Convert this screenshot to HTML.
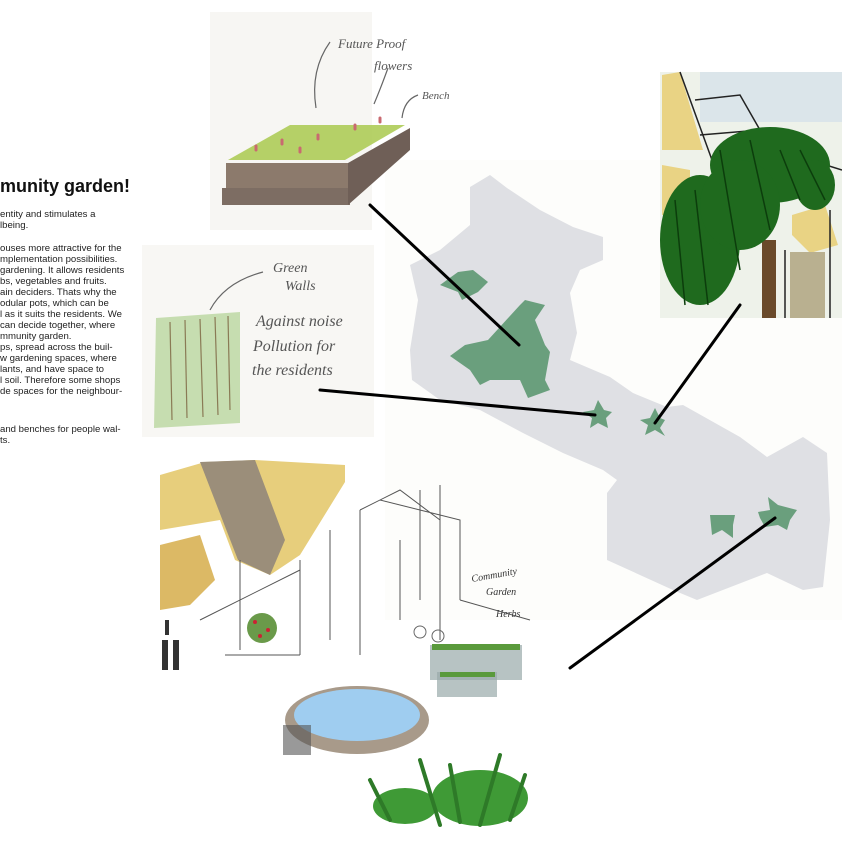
<!DOCTYPE html>
<html><head><meta charset="utf-8"><style>
html,body{margin:0;padding:0;background:#fff;}
#c{position:relative;width:842px;height:842px;overflow:hidden;background:#fff;font-family:"Liberation Sans",sans-serif;}
.t{position:absolute;left:0;font-size:9.6px;line-height:11px;color:#222;white-space:nowrap;}
h1{position:absolute;left:0;top:176px;margin:0;font-size:18px;font-weight:bold;color:#111;}
svg{position:absolute;left:0;top:0;}
</style></head><body><div id="c">
<svg width="842" height="842" viewBox="0 0 842 842">
<rect x="385" y="160" width="457" height="460" fill="#fdfdfb"/>
<rect x="210" y="12" width="162" height="218" fill="#f7f6f3"/>
<polygon points="228,160 345,160 405,125 290,125" fill="#a9c94e" opacity=".85"/>
<polygon points="226,163 348,163 348,190 226,190" fill="#8c7a6c"/>
<polygon points="222,188 350,188 350,205 222,205" fill="#7d6d63"/>
<polygon points="348,163 410,128 410,150 348,205" fill="#6f5f57"/>
<g stroke="#c96a70" stroke-width="3" stroke-linecap="round">
<line x1="256" y1="146" x2="256" y2="150"/><line x1="282" y1="140" x2="282" y2="144"/><line x1="318" y1="135" x2="318" y2="139"/><line x1="355" y1="125" x2="355" y2="129"/><line x1="380" y1="118" x2="380" y2="122"/><line x1="300" y1="148" x2="300" y2="152"/>
</g>
<g fill="none" stroke="#666" stroke-width="1.2">
<path d="M330,42 Q310,70 316,108"/><path d="M388,68 Q380,90 374,104"/><path d="M418,95 Q404,100 402,118"/>
</g>
<text x="338" y="48" font-family="Liberation Serif,serif" font-style="italic" font-size="13" fill="#555">Future Proof</text>
<text x="374" y="70" font-family="Liberation Serif,serif" font-style="italic" font-size="13" fill="#555">flowers</text>
<text x="422" y="99" font-family="Liberation Serif,serif" font-style="italic" font-size="11" fill="#555">Bench</text>
<rect x="142" y="245" width="232" height="192" fill="#f8f7f4"/>
<polygon points="156,318 240,312 240,423 154,428" fill="#c6ddb0"/>
<g stroke="#8a7a55" stroke-width="1.2"><line x1="170" y1="322" x2="172" y2="420"/><line x1="185" y1="320" x2="187" y2="418"/><line x1="200" y1="319" x2="203" y2="417"/><line x1="215" y1="317" x2="218" y2="415"/><line x1="228" y1="316" x2="230" y2="410"/></g>
<path d="M263,272 Q225,282 210,310" fill="none" stroke="#666" stroke-width="1.2"/>
<text x="273" y="272" font-family="Liberation Serif,serif" font-style="italic" font-size="14" fill="#555">Green</text>
<text x="285" y="290" font-family="Liberation Serif,serif" font-style="italic" font-size="14" fill="#555">Walls</text>
<text x="256" y="326" font-family="Liberation Serif,serif" font-style="italic" font-size="16" fill="#555">Against noise</text>
<text x="253" y="351" font-family="Liberation Serif,serif" font-style="italic" font-size="16" fill="#555">Pollution for</text>
<text x="252" y="375" font-family="Liberation Serif,serif" font-style="italic" font-size="16" fill="#555">the residents</text>
<polygon fill="#dfe0e4" points="470,187 490,175 507,188 540,210 573,227 603,237 603,260 580,270 570,293 577,333 570,360 610,377 633,393 667,407 683,405 740,437 767,457 803,437 827,453 830,520 823,587 803,590 767,573 697,600 673,590 607,560 607,493 617,480 603,470 563,453 523,433 480,410 440,400 412,380 410,350 418,300 410,265 440,250 470,225"/>
<g fill="#6a9f7d">
<polygon points="440,285 458,272 473,270 488,282 478,292 462,300 458,292"/>
<polygon points="488,340 520,305 525,300 545,305 535,320 545,345 550,352 545,380 550,390 528,398 520,380 490,380 480,385 470,370 450,356 465,345"/>
<polygon points="598,400 604,410 612,412 606,418 608,428 598,423 590,428 592,418 583,412 594,410"/>
<polygon points="655,408 660,418 665,420 660,428 665,436 655,430 645,435 648,425 640,420 650,418"/>
<polygon points="710,515 735,515 733,525 733,538 722,530 712,535"/>
<polygon points="768,497 778,505 797,510 790,520 787,530 778,525 765,527 760,518 758,512 770,510"/>
</g>
<!-- right image -->
<rect x="660" y="72" width="182" height="246" fill="#eef2ea"/>
<rect x="700" y="72" width="142" height="50" fill="#dbe5ea"/>
<polygon points="662,75 680,72 703,150 662,150" fill="#e9d384"/>
<polygon points="662,165 690,170 690,215 662,215" fill="#e9d384"/>
<polygon points="792,215 825,205 838,245 810,253 792,235" fill="#e9d384"/>
<g fill="none" stroke="#222" stroke-width="1.5"><path d="M680,72 L712,160 M695,100 L740,95 L760,130 L700,135 M810,160 L842,170 M830,210 L830,318 M785,250 L785,318"/></g>
<rect x="762" y="240" width="14" height="78" fill="#6a4a2a"/>
<rect x="790" y="252" width="35" height="66" fill="#b9b090"/>
<g fill="#1f6a1e"><ellipse cx="770" cy="165" rx="60" ry="38"/><ellipse cx="700" cy="240" rx="40" ry="65"/><ellipse cx="740" cy="205" rx="40" ry="45"/><ellipse cx="815" cy="185" rx="20" ry="25"/></g>
<g stroke="#0c3d0c" stroke-width="1.5"><line x1="675" y1="200" x2="685" y2="305"/><line x1="695" y1="190" x2="708" y2="305"/><line x1="720" y1="150" x2="740" y2="270"/><line x1="750" y1="140" x2="770" y2="230"/><line x1="780" y1="150" x2="800" y2="200"/><line x1="800" y1="150" x2="825" y2="200"/></g>
<!-- bottom scene -->
<polygon points="160,475 205,462 255,460 345,465 345,482 300,555 270,575 235,560 220,520 160,530" fill="#e7ce7c"/>
<polygon points="200,462 255,460 285,540 270,575 238,560" fill="#9b8e7a"/>
<polygon points="160,545 200,535 215,580 190,605 160,610" fill="#dcb965"/>
<g fill="none" stroke="#555" stroke-width="1"><path d="M240,560 L240,650 M300,560 L300,655 M360,510 L360,655 M420,490 L420,600 M380,500 L460,520 L460,600 M200,620 L300,570 M225,655 L300,655 M460,600 L530,620 M440,485 L440,640 M330,530 L330,640 M400,540 L400,620 M360,510 L400,490 L440,520"/></g>
<circle cx="262" cy="628" r="15" fill="#6a9a4a"/>
<g fill="#c23" ><circle cx="255" cy="622" r="2"/><circle cx="268" cy="630" r="2"/><circle cx="260" cy="636" r="2"/></g>
<g fill="#333"><rect x="162" y="640" width="6" height="30"/><rect x="173" y="640" width="6" height="30"/><rect x="165" y="620" width="4" height="15"/></g>
<rect x="430" y="645" width="92" height="35" fill="#9aa" opacity=".7"/>
<rect x="437" y="672" width="60" height="25" fill="#9aa" opacity=".7"/>
<g fill="#5a9a3c"><rect x="432" y="644" width="88" height="6"/><rect x="440" y="672" width="55" height="5"/></g>
<ellipse cx="357" cy="720" rx="72" ry="34" fill="#a89a8a"/>
<ellipse cx="357" cy="715" rx="63" ry="26" fill="#9fcdf0"/>
<rect x="283" y="725" width="28" height="30" fill="#555" opacity=".6"/>
<g fill="none" stroke="#666" stroke-width="1"><circle cx="420" cy="632" r="6"/><circle cx="438" cy="636" r="6"/></g>
<text x="472" y="582" font-family="Liberation Serif,serif" font-style="italic" font-size="10" fill="#333" transform="rotate(-10 472 582)">Community</text>
<text x="486" y="595" font-family="Liberation Serif,serif" font-style="italic" font-size="10" fill="#333">Garden</text>
<text x="496" y="617" font-family="Liberation Serif,serif" font-style="italic" font-size="10" fill="#333">Herbs</text>
<g fill="#3f9a36"><ellipse cx="480" cy="798" rx="48" ry="28"/><ellipse cx="405" cy="806" rx="32" ry="18"/></g>
<g stroke="#2e7a28" stroke-width="4" stroke-linecap="round"><line x1="440" y1="825" x2="420" y2="760"/><line x1="480" y1="825" x2="500" y2="755"/><line x1="510" y1="820" x2="525" y2="775"/><line x1="390" y1="820" x2="370" y2="780"/><line x1="460" y1="822" x2="450" y2="765"/></g>
<g stroke="#000" stroke-width="3" stroke-linecap="round">
<line x1="370" y1="205" x2="519" y2="345"/>
<line x1="320" y1="390" x2="595" y2="415"/>
<line x1="740" y1="305" x2="655" y2="423"/>
<line x1="570" y1="668" x2="775" y2="518"/>
</g>
</svg>
<h1>munity garden!</h1>
<div class="t" style="top:209px">entity and stimulates a<br>lbeing.</div>
<div class="t" style="top:243px">ouses more attractive for the<br>mplementation possibilities.<br>gardening. It allows residents<br>bs, vegetables and fruits.<br>ain deciders. Thats why the<br>odular pots, which can be<br>l as it suits the residents. We<br>can decide together, where<br>mmunity garden.<br>ps, spread across the buil-<br>w gardening spaces, where<br>lants, and have space to<br>l soil. Therefore some shops<br>de spaces for the neighbour-</div>
<div class="t" style="top:424px">and benches for people wal-<br>ts.</div>
</div></body></html>
